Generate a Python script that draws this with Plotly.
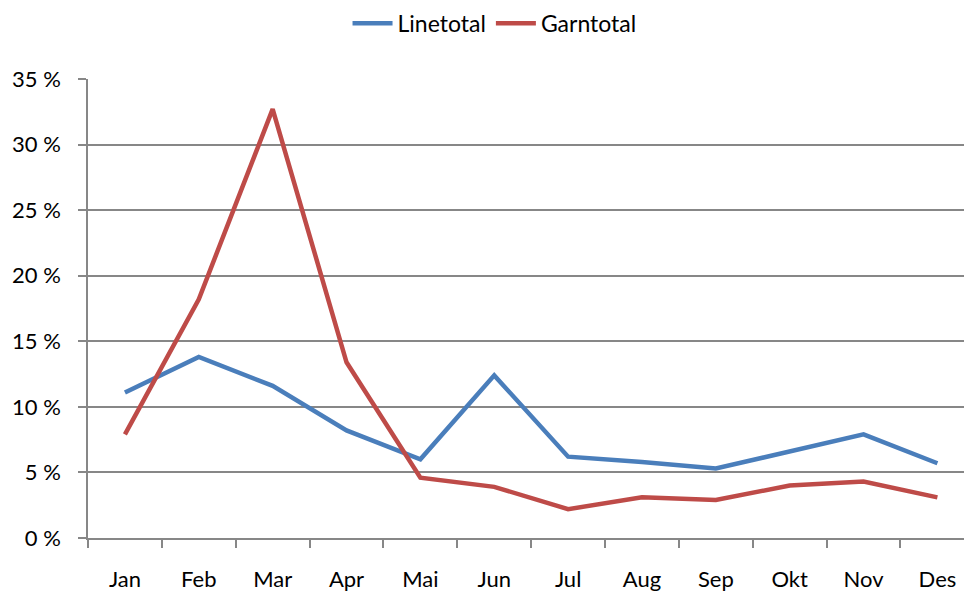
import plotly.graph_objects as go

months = ["Jan", "Feb", "Mar", "Apr", "Mai", "Jun", "Jul", "Aug", "Sep", "Okt", "Nov", "Des"]
linetotal = [11.1, 13.8, 11.6, 8.2, 6.0, 12.4, 6.2, 5.8, 5.3, 6.6, 7.9, 5.7]
garntotal = [7.9, 18.2, 32.7, 13.4, 4.6, 3.9, 2.2, 3.1, 2.9, 4.0, 4.3, 3.1]
ytick_vals = [0, 5, 10, 15, 20, 25, 30, 35]
ytick_text = ["0 %", "5 %", "10 %", "15 %", "20 %", "25 %", "30 %", "35 %"]

font_family = "Lato, 'Open Sans', sans-serif"
grid = "#878787"

fig = go.Figure()
fig.add_trace(go.Scatter(x=months, y=linetotal, mode="lines", name="Linetotal",
                         line=dict(color="#4A7EBB", width=4.5)))
fig.add_trace(go.Scatter(x=months, y=garntotal, mode="lines", name="Garntotal",
                         line=dict(color="#BE4B48", width=4.5)))

fig.update_layout(
    width=964, height=592,
    margin=dict(l=88, r=0, t=79, b=54),
    paper_bgcolor="white", plot_bgcolor="white",
    font=dict(family=font_family, size=22, color="black"),
    showlegend=True,
    legend=dict(orientation="h", x=0.513, xanchor="center", xref="container",
                y=0.997, yanchor="top", yref="container",
                font=dict(size=23), traceorder="normal", itemwidth=40),
    xaxis=dict(range=[-0.5, 11.36], type="category", showline=True, linecolor=grid, linewidth=1.5,
               ticks="outside", tickson="boundaries", ticklen=8, tickcolor=grid, tickwidth=1.5,
               showgrid=False, zeroline=False, ticklabelstandoff=21),
    yaxis=dict(range=[0, 35], tickvals=ytick_vals, ticktext=ytick_text, showline=True,
               linecolor=grid, linewidth=1.5, ticks="outside", ticklen=8, tickcolor=grid,
               tickwidth=1.5, showgrid=True, gridcolor=grid, gridwidth=1.5, zeroline=False,
               ticklabelstandoff=13),
)

fig.write_html("out.html", config={"displayModeBar": False},
               post_script="document.body.style.margin='0';document.body.style.overflow='hidden';")
